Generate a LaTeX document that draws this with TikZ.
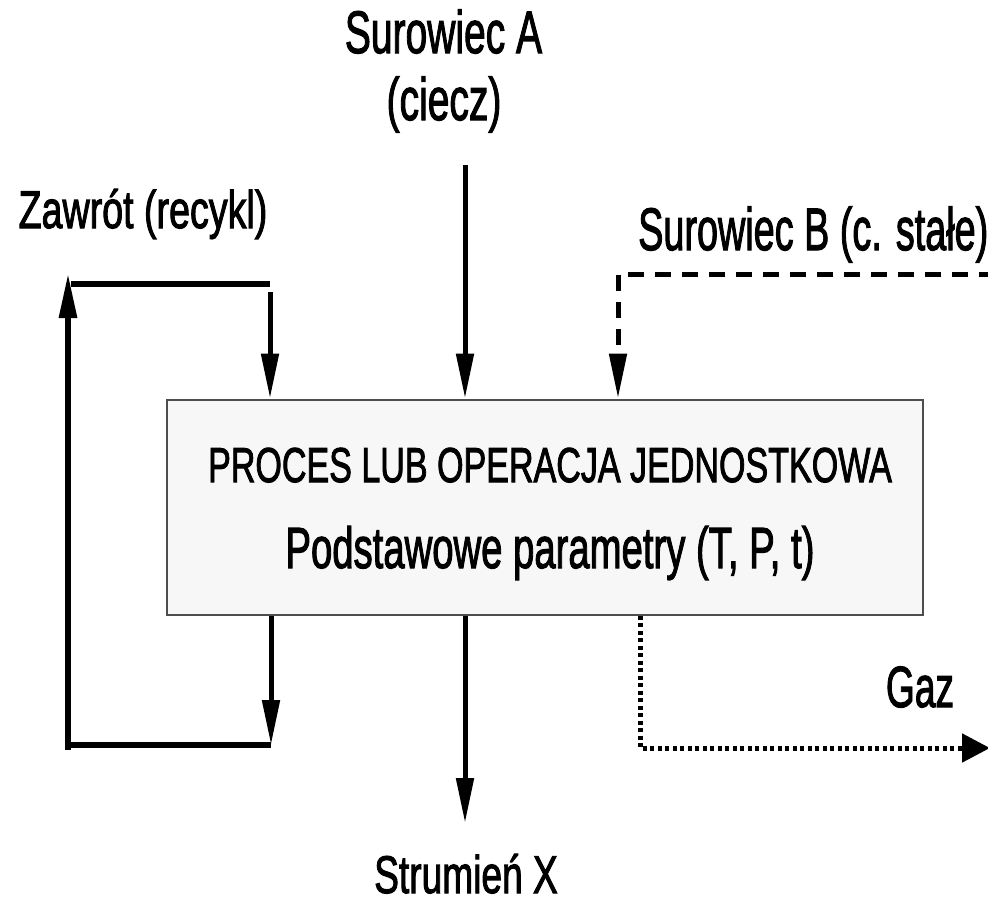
\documentclass[tikz,border=0pt]{standalone}
\usepackage{fontspec}
\usepackage{graphicx}
\setmainfont{Liberation Sans}[FakeBold=2.2]
\usetikzlibrary{arrows.meta}
\definecolor{boxfill}{HTML}{F7F7F7}
\definecolor{boxgray}{HTML}{4D4D4D}
\newcommand{\nw}[2]{\scalebox{#1}[1]{#2}}
\tikzset{
  x=1pt, y=-1pt,
  lbl/.style={inner sep=0pt, anchor=base},
  bigtip/.style={-{Triangle[length=45pt,width=17pt]}},
  flow/.style={line width=5pt, bigtip},
  bar/.style={line width=6pt},
  feedB/.style={line width=5pt, dash pattern=on 16pt off 11pt, bigtip},
  gasline/.style={line width=5pt, dash pattern=on 4pt off 3.5pt, -{Triangle[length=28pt,width=28pt]}},
  procbox/.style={draw=boxgray, line width=2pt, fill=boxfill, minimum width=756pt, minimum height=215pt, inner sep=0pt}
}
\begin{document}
\begin{tikzpicture}
\useasboundingbox (0,0) rectangle (988,903);
\fill[white] (0,0) rectangle (988,903);

% process box
\node[procbox] (box) at (545,507) {};
\node[lbl, font=\fontsize{49}{55}\selectfont] (t1) at (550,482) {\nw{0.695}{PROCES LUB OPERACJA JEDNOSTKOWA}};
\node[lbl, font=\fontsize{58}{66}\selectfont] (t2) at (550,568) {\nw{0.66}{Podstawowe parametry (T, P, t)}};

% labels
\node[lbl, font=\fontsize{60}{68}\selectfont] (sa1) at (443.5,53) {\nw{0.65}{Surowiec A}};
\node[lbl, font=\fontsize{60}{68}\selectfont] (sa2) at (444,120) {\nw{0.65}{(ciecz)}};
\node[lbl, font=\fontsize{53}{60}\selectfont] (zw) at (143,228) {\nw{0.71}{Zawrót (recykl)}};
\node[lbl, anchor=base west, font=\fontsize{60}{68}\selectfont] (sb) at (638,250) {\nw{0.63}{Surowiec B (c. stałe)}};
\node[lbl, font=\fontsize{58}{66}\selectfont] (gz) at (920,707) {\nw{0.64}{Gaz}};
\node[lbl, font=\fontsize{53}{60}\selectfont] (sx) at (466,893) {\nw{0.70}{Strumień X}};

% coordinates
\coordinate (aStart) at (465,165);
\coordinate (xEnd) at (465,823);
\coordinate (rTL) at (68,284);
\coordinate (rTR) at (270,284);
\coordinate (rIn) at (270,292);
\coordinate (rOut) at (271,620);
\coordinate (rBR) at (271,745);
\coordinate (rBL) at (68,745);
\coordinate (rLow) at (68,750);
\coordinate (rUp) at (68,273);
\coordinate (bEnd) at (995,274);
\coordinate (bCorner) at (618,274);
\coordinate (gStart) at (640,615);
\coordinate (gCorner) at (640,748);
\coordinate (gEnd) at (990,748);

% raw material A and product stream X
\draw[flow] (aStart) -- (box.north -| aStart);
\draw[flow] (box.south -| xEnd) -- (xEnd);

% recycle loop
\draw[flow] (box.south -| rOut) -- (rBR);
\draw[bar] (rBR) -- (rBL);
\draw[line width=6pt, bigtip] (rLow) -- (rUp);
\draw[bar] ([xshift=3pt]rTL) -- (rTR);
\draw[flow] (rIn) -- (box.north -| rIn);

% raw material B (dashed)
\draw[feedB] (bEnd) -- (bCorner) -- (box.north -| bCorner);

% gas (dotted)
\draw[gasline] (box.south -| gStart) -- (gCorner) -- (gEnd);
\end{tikzpicture}
\end{document}
